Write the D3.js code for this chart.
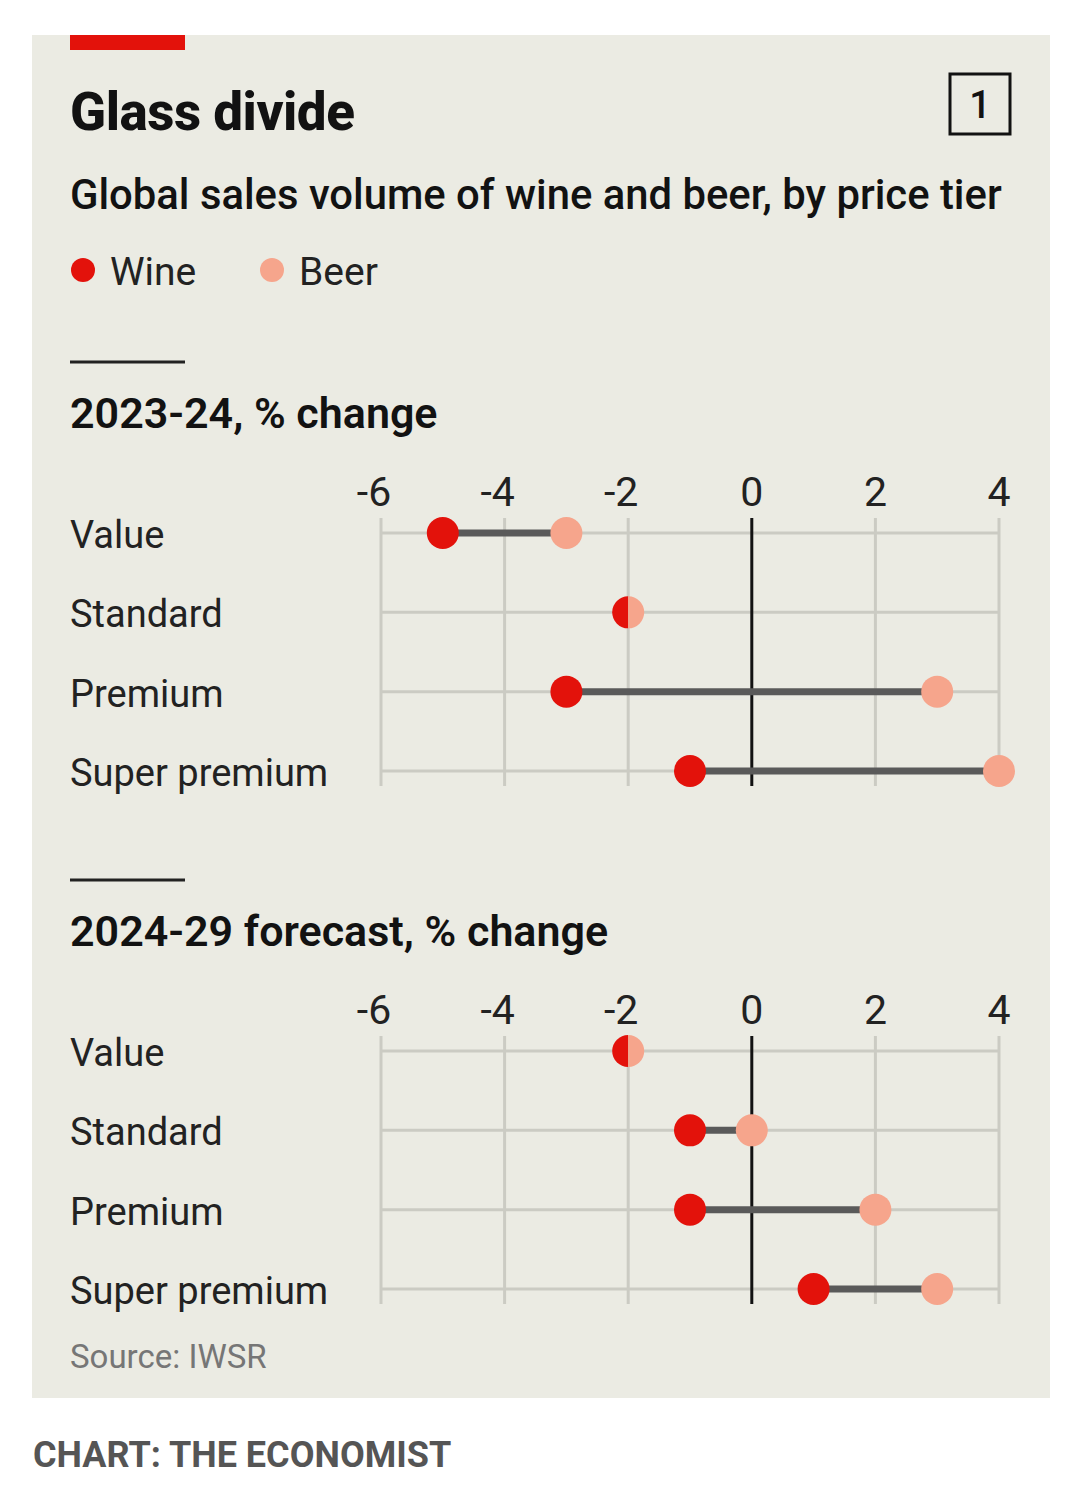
<!DOCTYPE html>
<meta charset="utf-8">
<style>
    body {
        margin: 0;
        background: #fff;
    }
    svg text {
        font-family: Roboto, "Noto Sans", sans-serif;
    }
</style>

<body>
    <script src="https://cdn.jsdelivr.net/npm/d3@7"></script>
    <script>
        // data
        var tiers = ["Value", "Standard", "Premium", "Super premium"];
        var ticks = [-6, -4, -2, 0, 2, 4];
        var wine2324 = [-5, -2, -3, -1];
        var beer2324 = [-3, -2, 3, 4];
        var wine2429 = [-2, -1, -1, 1];
        var beer2429 = [-2, 0, 2, 3];

        var width = 1080,
            height = 1489;

        var wineColor = "#e3120b",
            beerColor = "#f6a58c",
            bg = "#ebebe3";

        var svg = d3.select("body").append("svg")
            .attr("width", width)
            .attr("height", height);

        svg.append("rect")
            .attr("x", 32).attr("y", 35)
            .attr("width", 1018).attr("height", 1363)
            .attr("fill", bg);

        svg.append("rect")
            .attr("x", 70).attr("y", 35)
            .attr("width", 115).attr("height", 15)
            .attr("fill", wineColor);

        svg.append("text")
            .attr("x", 70).attr("y", 130)
            .attr("font-size", 53).attr("font-weight", 800)
            .attr("letter-spacing", -0.5)
            .attr("fill", "#121212")
            .text("Glass divide");

        svg.append("rect")
            .attr("x", 950).attr("y", 74)
            .attr("width", 60).attr("height", 60)
            .attr("fill", "none").attr("stroke", "#121212").attr("stroke-width", 3);
        svg.append("text")
            .attr("x", 980).attr("y", 118)
            .attr("text-anchor", "middle")
            .attr("font-size", 38).attr("font-weight", 500)
            .attr("fill", "#121212")
            .text("1");

        svg.append("text")
            .attr("x", 70).attr("y", 209)
            .attr("font-size", 41.8).attr("font-weight", 500)
            .attr("fill", "#121212")
            .text("Global sales volume of wine and beer, by price tier");

        // legend
        var legend = [
            { name: "Wine", color: wineColor, x: 83 },
            { name: "Beer", color: beerColor, x: 272 }
        ];
        var lg = svg.selectAll(".legend").data(legend).enter().append("g");
        lg.append("circle")
            .attr("cx", d => d.x).attr("cy", 270).attr("r", 12)
            .attr("fill", d => d.color);
        lg.append("text")
            .attr("x", d => d.x + 27).attr("y", 285)
            .attr("font-size", 39)
            .attr("fill", "#222")
            .text(d => d.name);

        var x = d3.scaleLinear()
            .domain([-6, 4])
            .range([381, 999]);

        function panel(top, title, wine, beer) {
            var g = svg.append("g");

            g.append("line")
                .attr("x1", 70).attr("x2", 185)
                .attr("y1", top).attr("y2", top)
                .attr("stroke", "#222").attr("stroke-width", 3);

            g.append("text")
                .attr("x", 70).attr("y", top + 66)
                .attr("font-size", 43).attr("font-weight", 600)
                .attr("fill", "#121212")
                .text(title);

            var y = d3.scalePoint()
                .domain(tiers)
                .range([top + 171, top + 409]);

            var gridTop = top + 156,
                gridBottom = top + 424;

            // tick labels, digit centred on the tick
            g.selectAll(".tick").data(ticks).enter().append("text")
                .attr("x", d => x(d) + (d < 0 ? -7 : 0))
                .attr("y", top + 144)
                .attr("text-anchor", "middle")
                .attr("font-size", 41)
                .attr("fill", "#222")
                .text(d => d);

            // vertical gridlines
            g.selectAll(".vgrid").data(ticks.filter(d => d !== 0)).enter().append("line")
                .attr("x1", d => x(d)).attr("x2", d => x(d))
                .attr("y1", gridTop).attr("y2", gridBottom)
                .attr("stroke", "#cbcbc3").attr("stroke-width", 3);

            // horizontal gridlines
            g.selectAll(".hgrid").data(tiers).enter().append("line")
                .attr("x1", x(-6)).attr("x2", x(4))
                .attr("y1", d => y(d)).attr("y2", d => y(d))
                .attr("stroke", "#cbcbc3").attr("stroke-width", 3);

            g.append("line")
                .attr("x1", x(0)).attr("x2", x(0))
                .attr("y1", gridTop).attr("y2", gridBottom)
                .attr("stroke", "#121212").attr("stroke-width", 3);

            // row labels
            g.selectAll(".label").data(tiers).enter().append("text")
                .attr("x", 70)
                .attr("y", d => y(d) + 15)
                .attr("font-size", 38)
                .attr("fill", "#222")
                .text(d => d);

            var rows = tiers.map((t, i) => ({ tier: t, wine: wine[i], beer: beer[i] }));

            g.selectAll(".link").data(rows.filter(d => d.wine !== d.beer)).enter().append("line")
                .attr("x1", d => x(d.wine)).attr("x2", d => x(d.beer))
                .attr("y1", d => y(d.tier)).attr("y2", d => y(d.tier))
                .attr("stroke", "#5a5a5a").attr("stroke-width", 7);

            var r = 16;
            var arc = d3.arc().innerRadius(0).outerRadius(r);

            rows.forEach(function (d) {
                var cy = y(d.tier);
                if (d.wine === d.beer) {
                    g.append("path")
                        .attr("transform", "translate(" + x(d.wine) + "," + cy + ")")
                        .attr("d", arc({ startAngle: Math.PI, endAngle: 2 * Math.PI }))
                        .attr("fill", wineColor);
                    g.append("path")
                        .attr("transform", "translate(" + x(d.beer) + "," + cy + ")")
                        .attr("d", arc({ startAngle: 0, endAngle: Math.PI }))
                        .attr("fill", beerColor);
                } else {
                    g.append("circle")
                        .attr("cx", x(d.beer)).attr("cy", cy).attr("r", r)
                        .attr("fill", beerColor);
                    g.append("circle")
                        .attr("cx", x(d.wine)).attr("cy", cy).attr("r", r)
                        .attr("fill", wineColor);
                }
            });
        }

        panel(362, "2023-24, % change", wine2324, beer2324);
        panel(880, "2024-29 forecast, % change", wine2429, beer2429);

        svg.append("text")
            .attr("x", 70).attr("y", 1368)
            .attr("font-size", 33)
            .attr("fill", "#767676")
            .text("Source: IWSR");

        svg.append("text")
            .attr("x", 33).attr("y", 1467)
            .attr("font-size", 36).attr("font-weight", 700)
            .attr("fill", "#555")
            .text("CHART: THE ECONOMIST");
    </script>
</body>
